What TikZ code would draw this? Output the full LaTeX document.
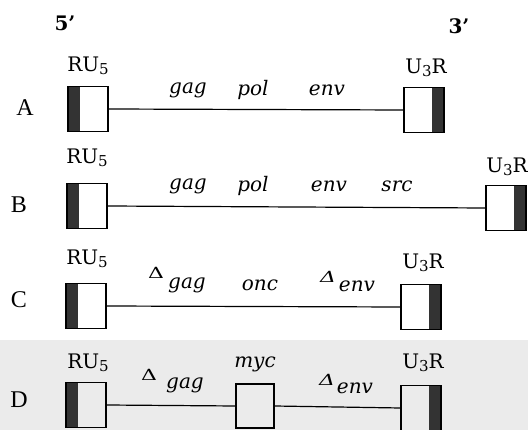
\documentclass[tikz,border=0pt]{standalone}
\usepackage{fontspec}
\setmainfont{DejaVu Serif}
\newfontfamily\rowfont{Liberation Serif}
\newcommand{\ltrsub}[1]{{\fontsize{15}{17}\selectfont\raisebox{-3pt}{#1}}}
\newcommand{\dsym}{\scalebox{1}[0.7]{Δ}}
\begin{document}
\begin{tikzpicture}[x=1pt,y=-1pt,
  ltr/.style={draw,line width=1.2pt,minimum width=40pt,minimum height=45pt,inner sep=0pt},
  ltrl/.style={ltr,path picture={\fill[black!80] (path picture bounding box.south west)
      rectangle ([xshift=12pt]path picture bounding box.north west);}},
  ltrr/.style={ltr,path picture={\fill[black!80] (path picture bounding box.south east)
      rectangle ([xshift=-12pt]path picture bounding box.north east);}},
  insert/.style={ltr,minimum width=38pt,minimum height=44pt},
  conn/.style={line width=1.2pt},
  rowlab/.style={font=\rowfont\fontsize{24}{26}\selectfont},
  ltrlab/.style={font=\fontsize{20}{22}\selectfont,inner sep=0pt},
  gene/.style={font=\fontsize{20}{22}\selectfont\itshape,inner sep=0pt},
  dlt/.style={font=\fontsize{22}{24}\selectfont,inner sep=0pt},
  endlab/.style={font=\fontsize{20}{22}\selectfont\bfseries}]
  \useasboundingbox (0,0) rectangle (528,430);
  % faint band behind row D
  \fill[black!8] (0,340) rectangle (528,430);

  % strand ends
  \node[endlab] (five) at (65,23) {5'};
  \node[endlab] (three) at (459,26) {3'};

  % row A
  \node[rowlab] (lA) at (25,108) {A};
  \node[ltrl] (a1) at (88,109) {};
  \node[ltrr] (a2) at (424,110) {};
  \draw[conn] (a1.east) -- (a2.west);
  \node[ltrlab] (a1t) at (88,66) {RU\ltrsub{5}};
  \node[ltrlab] (a2t) at (426,68) {U\ltrsub{3}R};
  \node[gene] (ag) at (188,90) {gag};
  \node[gene] (ap) at (253,90) {pol};
  \node[gene] (ae) at (327,90) {env};

  % row B
  \node[rowlab] (lB) at (19,205) {B};
  \node[ltrl] (b1) at (87,206) {};
  \node[ltrr] (b2) at (506,208) {};
  \draw[conn] (b1.east) -- (b2.west);
  \node[ltrlab] (b1t) at (87,158) {RU\ltrsub{5}};
  \node[ltrlab] (b2t) at (507,167) {U\ltrsub{3}R};
  \node[gene] (bg) at (188,186) {gag};
  \node[gene] (bp) at (253,186) {pol};
  \node[gene] (be) at (329,186) {env};
  \node[gene] (bs) at (397,186) {src};

  % row C
  \node[rowlab] (lC) at (19,300) {C};
  \node[ltrl] (c1) at (86,306) {};
  \node[ltrr] (c2) at (421,307) {};
  \draw[conn] (c1.east) -- (c2.west);
  \node[ltrlab] (c1t) at (87,259) {RU\ltrsub{5}};
  \node[ltrlab] (c2t) at (423,263) {U\ltrsub{3}R};
  \node[dlt] (cd1) at (156,273) {\dsym};
  \node[gene] (cg) at (187,285) {gag};
  \node[gene] (co) at (260,285) {onc};
  \node[dlt] (cd2) at (328,277) {\itshape\dsym};
  \node[gene] (ce) at (357,286) {env};

  % row D
  \node[rowlab] (lD) at (19,400) {D};
  \node[ltrl] (d1) at (86,405) {};
  \node[insert] (dm) at (255,406) {};
  \draw[conn] (d1.east) -- (dm.west);
  \node[ltrr] (d2) at (421,408) {};
  \draw[conn] (dm.east) -- (d2.west);
  \node[ltrlab] (d1t) at (88,363) {RU\ltrsub{5}};
  \node[ltrlab] (d2t) at (423,363) {U\ltrsub{3}R};
  \node[dlt] (dd1) at (149,375) {\dsym};
  \node[gene] (dg) at (185,385) {gag};
  \node[gene] (dmt) at (255,364) {myc};
  \node[dlt] (dd2) at (327,380) {\itshape\dsym};
  \node[gene] (de) at (355,388) {env};
\end{tikzpicture}
\end{document}
